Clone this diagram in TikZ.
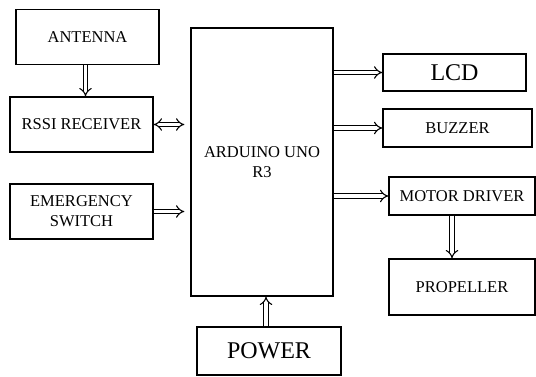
\documentclass[tikz,border=0pt]{standalone}
\usepackage{fontspec}
\setmainfont{Liberation Serif}
\usetikzlibrary{arrows.meta}
\begin{document}
\begin{tikzpicture}[x=1pt,y=-1pt,
  blk/.style={draw, line width=1.2pt, inner sep=0pt, align=center, font=\fontsize{16.5}{20}\selectfont},
  big/.style={font=\fontsize{24}{26}\selectfont},
  dbl/.style={double, double distance=3.2pt, line width=1.1pt, -{Implies}},
  dblboth/.style={double, double distance=3.2pt, line width=1.1pt, {Implies}-{Implies}}]
\useasboundingbox (0,0) rectangle (536,377);
\node[blk, minimum width=143pt, minimum height=55pt] (antenna) at (87.5,37) {ANTENNA};
\node[blk, minimum width=143pt, minimum height=55pt] (rssi) at (81.5,124.5) {RSSI RECEIVER};
\node[blk, minimum width=143pt, minimum height=55pt] (emerg) at (81.5,211.5) {EMERGENCY\\SWITCH};
\node[blk, minimum width=142pt, minimum height=268pt] (ard) at (262,162) {ARDUINO UNO\\R3};
\node[blk, big, minimum width=143pt, minimum height=37pt] (lcd) at (454.5,72.5) {LCD};
\node[blk, minimum width=149pt, minimum height=38pt] (buzzer) at (457.5,128) {BUZZER};
\node[blk, minimum width=146pt, minimum height=38pt] (motor) at (462,196) {MOTOR DRIVER};
\node[blk, minimum width=146pt, minimum height=56pt] (prop) at (462,287) {PROPELLER};
\node[blk, big, minimum width=144pt, minimum height=48pt] (power) at (269,351) {POWER};
\draw[dbl] ([xshift=-2pt]antenna.south) -- ([xshift=-2pt]antenna.south |- rssi.north);
\draw[dblboth, shorten >=6pt] (rssi.east) -- (rssi.east -| ard.west);
\draw[dbl, shorten >=6pt] (emerg.east) -- (emerg.east -| ard.west);
\draw[dbl] (lcd.west -| ard.east) -- (lcd.west);
\draw[dbl] (buzzer.west -| ard.east) -- (buzzer.west);
\draw[dbl] (motor.west -| ard.east) -- (motor.west);
\draw[dbl] ([xshift=-10pt]motor.south) -- ([xshift=-10pt]motor.south |- prop.north);
\draw[dbl] ([xshift=-3pt]power.north) -- ([xshift=-3pt]power.north |- ard.south);
\end{tikzpicture}
\end{document}
